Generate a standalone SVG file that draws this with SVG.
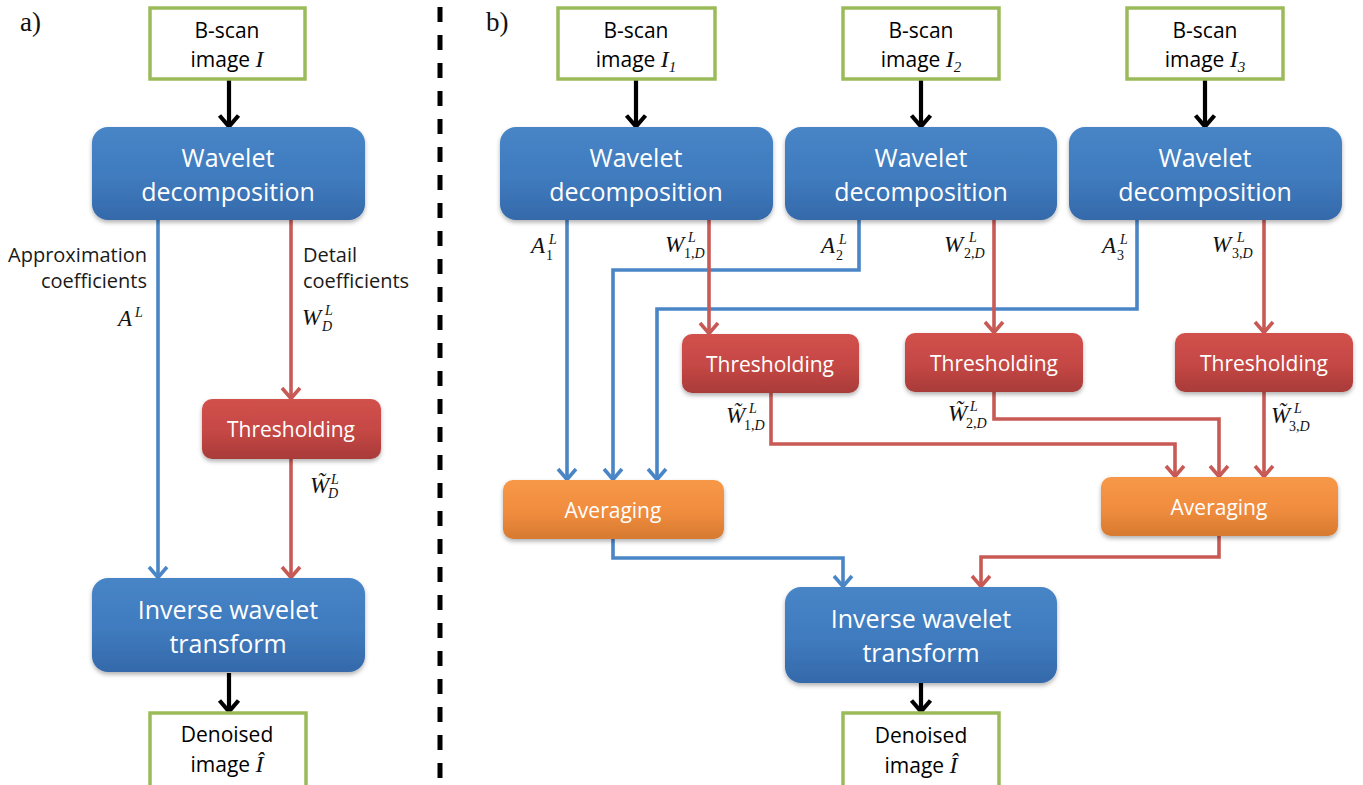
<svg xmlns="http://www.w3.org/2000/svg" width="1363" height="785" viewBox="0 0 1363 785">
<defs>
<linearGradient id="gb" x1="0" y1="0" x2="0" y2="1"><stop offset="0" stop-color="#4785C7"/><stop offset="0.55" stop-color="#3F7BBE"/><stop offset="1" stop-color="#3469AA"/></linearGradient>
<linearGradient id="gr" x1="0" y1="0" x2="0" y2="1"><stop offset="0" stop-color="#D2514D"/><stop offset="0.55" stop-color="#C44744"/><stop offset="1" stop-color="#A83B39"/></linearGradient>
<linearGradient id="go" x1="0" y1="0" x2="0" y2="1"><stop offset="0" stop-color="#F79848"/><stop offset="0.55" stop-color="#F08C3E"/><stop offset="1" stop-color="#D67A30"/></linearGradient>
<filter id="sh" x="-10%" y="-10%" width="120%" height="130%"><feDropShadow dx="0" dy="2.5" stdDeviation="2" flood-color="#000" flood-opacity="0.3"/></filter>
<marker id="mk" markerUnits="userSpaceOnUse" markerWidth="24" markerHeight="24" refX="10.5" refY="12" orient="auto" overflow="visible"><path d="M0 2.5 L11 12 L0 21.5" fill="none" stroke="#000" stroke-width="4.2"/></marker>
<marker id="mb" markerUnits="userSpaceOnUse" markerWidth="24" markerHeight="24" refX="10" refY="12" orient="auto" overflow="visible"><path d="M0 3 L10.5 12 L0 21" fill="none" stroke="#4A86C6" stroke-width="3.6"/></marker>
<marker id="mr" markerUnits="userSpaceOnUse" markerWidth="24" markerHeight="24" refX="10" refY="12" orient="auto" overflow="visible"><path d="M0 3 L10.5 12 L0 21" fill="none" stroke="#C85A56" stroke-width="3.6"/></marker>
</defs>
<style>
.in{fill:#fff;stroke:#9BBB59;stroke-width:3.5}
.nb{fill:url(#gb);filter:url(#sh)}
.nr{fill:url(#gr);filter:url(#sh)}
.no{fill:url(#go);filter:url(#sh)}
.t{font-family:"Open Sans","Liberation Sans",sans-serif;text-anchor:middle}
.tw{font-family:"Open Sans","Liberation Sans",sans-serif;text-anchor:middle;fill:#fff}
.tk{font-family:"Open Sans","Liberation Sans",sans-serif;fill:#1a1a1a;font-size:20px}
.m{font-family:"Liberation Serif","Times New Roman",serif;font-style:italic;fill:#111}
.mu{font-family:"Liberation Serif","Times New Roman",serif;fill:#111}
.cb{fill:none;stroke:#4A86C6;stroke-width:3.6;marker-end:url(#mb)}
.cr{fill:none;stroke:#C85A56;stroke-width:3.6;marker-end:url(#mr)}
.ck{fill:none;stroke:#000;stroke-width:4.2;marker-end:url(#mk)}
.lab{font-family:"Liberation Serif","Times New Roman",serif;font-size:27px;fill:#111}
</style>

<text class="lab" x="20" y="31">a)</text>
<text class="lab" x="486" y="31">b)</text>
<line x1="440" y1="7" x2="440" y2="785" stroke="#000" stroke-width="5" stroke-dasharray="15 13"/>

<g id="connectors">
<line class="ck" x1="229" y1="80" x2="229" y2="126"/>
<line class="cb" x1="158" y1="220" x2="158" y2="577"/>
<line class="cr" x1="291" y1="220" x2="291" y2="398"/>
<line class="cr" x1="291" y1="459" x2="291" y2="577"/>
<line class="ck" x1="229" y1="673" x2="229" y2="711"/>
<line class="ck" x1="636" y1="80" x2="636" y2="126"/>
<line class="ck" x1="921" y1="80" x2="921" y2="126"/>
<line class="ck" x1="1205" y1="80" x2="1205" y2="126"/>
<line class="cb" x1="567" y1="220" x2="567" y2="479"/>
<polyline class="cb" points="859,220 859,270 613,270 613,479"/>
<polyline class="cb" points="1137,220 1137,309 657,309 657,479"/>
<line class="cr" x1="709" y1="220" x2="709" y2="333"/>
<line class="cr" x1="994" y1="220" x2="994" y2="332"/>
<line class="cr" x1="1264" y1="220" x2="1264" y2="332"/>
<polyline class="cr" points="771,393 771,444 1175,444 1175,476"/>
<polyline class="cr" points="994,392 994,419 1219,419 1219,476"/>
<line class="cr" x1="1264" y1="392" x2="1264" y2="476"/>
<polyline class="cb" points="613,539 613,558 843,558 843,586"/>
<polyline class="cr" points="1219,536 1219,557 981,557 981,586"/>
<line class="ck" x1="921" y1="683" x2="921" y2="711"/>
</g>

<g id="a-input">
<rect class="in" x="150" y="8" width="155" height="71"/>
<text class="t" x="227" y="38" font-size="21">B-scan</text>
<text class="t" x="227" y="67" font-size="21">image <tspan class="m" font-size="24">I</tspan></text>
</g>
<g id="a-wavelet">
<rect class="nb" x="92" y="127" width="273" height="93" rx="16"/>
<text class="tw" x="228" y="167" font-size="25">Wavelet</text>
<text class="tw" x="228" y="201" font-size="25">decomposition</text>
</g>
<g id="a-threshold">
<rect class="nr" x="202" y="399" width="179" height="60" rx="10"/>
<text class="tw" x="291" y="437" font-size="21">Thresholding</text>
</g>
<g id="a-inverse">
<rect class="nb" x="92" y="578" width="273" height="94" rx="16"/>
<text class="tw" x="228" y="619" font-size="25">Inverse wavelet</text>
<text class="tw" x="228" y="653" font-size="25">transform</text>
</g>
<g id="a-output">
<rect class="in" x="150" y="713" width="156" height="80"/>
<text class="t" x="227" y="742" font-size="21">Denoised</text>
<text class="t" x="227" y="772" font-size="21">image <tspan class="m" font-size="24">Î</tspan></text>
</g>
<g id="a-labels">
<text class="tk" x="147" y="262" text-anchor="end">Approximation</text>
<text class="tk" x="147" y="288" text-anchor="end">coefficients</text>
<text class="m" x="118" y="326" font-size="23">A</text>
<text class="m" x="135" y="317" font-size="14">L</text>
<text class="tk" x="303" y="262">Detail</text>
<text class="tk" x="303" y="288">coefficients</text>
<text class="m" x="302" y="325" font-size="23">W</text>
<text class="m" x="325" y="315" font-size="14">L</text>
<text class="m" x="322" y="331" font-size="14">D</text>
<text class="m" x="310" y="493" font-size="23">W&#771;</text>
<text class="m" x="331" y="484" font-size="14">L</text>
<text class="m" x="328" y="498" font-size="14">D</text>
</g>

<g id="b-input1">
<rect class="in" x="558" y="8" width="157" height="71"/>
<text class="t" x="636" y="38" font-size="21">B-scan</text>
<text class="t" x="636" y="67" font-size="21">image <tspan class="m" font-size="24">I</tspan><tspan class="m" font-size="15" dy="5">1</tspan></text>
</g>
<g id="b-input2">
<rect class="in" x="843" y="8" width="156" height="71"/>
<text class="t" x="921" y="38" font-size="21">B-scan</text>
<text class="t" x="921" y="67" font-size="21">image <tspan class="m" font-size="24">I</tspan><tspan class="m" font-size="15" dy="5">2</tspan></text>
</g>
<g id="b-input3">
<rect class="in" x="1127" y="8" width="156" height="71"/>
<text class="t" x="1205" y="38" font-size="21">B-scan</text>
<text class="t" x="1205" y="67" font-size="21">image <tspan class="m" font-size="24">I</tspan><tspan class="m" font-size="15" dy="5">3</tspan></text>
</g>
<g id="b-wavelet1">
<rect class="nb" x="500" y="127" width="273" height="93" rx="16"/>
<text class="tw" x="636" y="167" font-size="25">Wavelet</text>
<text class="tw" x="636" y="201" font-size="25">decomposition</text>
</g>
<g id="b-wavelet2">
<rect class="nb" x="785" y="127" width="272" height="93" rx="16"/>
<text class="tw" x="921" y="167" font-size="25">Wavelet</text>
<text class="tw" x="921" y="201" font-size="25">decomposition</text>
</g>
<g id="b-wavelet3">
<rect class="nb" x="1069" y="127" width="273" height="93" rx="16"/>
<text class="tw" x="1205" y="167" font-size="25">Wavelet</text>
<text class="tw" x="1205" y="201" font-size="25">decomposition</text>
</g>
<g id="b-threshold1">
<rect class="nr" x="682" y="334" width="177" height="59" rx="10"/>
<text class="tw" x="770" y="372" font-size="21">Thresholding</text>
</g>
<g id="b-threshold2">
<rect class="nr" x="905" y="333" width="178" height="59" rx="10"/>
<text class="tw" x="994" y="371" font-size="21">Thresholding</text>
</g>
<g id="b-threshold3">
<rect class="nr" x="1175" y="333" width="178" height="59" rx="10"/>
<text class="tw" x="1264" y="371" font-size="21">Thresholding</text>
</g>
<g id="b-averaging1">
<rect class="no" x="503" y="480" width="221" height="59" rx="10"/>
<text class="tw" x="613" y="518" font-size="21">Averaging</text>
</g>
<g id="b-averaging2">
<rect class="no" x="1101" y="477" width="237" height="59" rx="10"/>
<text class="tw" x="1219" y="515" font-size="21">Averaging</text>
</g>
<g id="b-inverse">
<rect class="nb" x="785" y="587" width="272" height="96" rx="16"/>
<text class="tw" x="921" y="628" font-size="25">Inverse wavelet</text>
<text class="tw" x="921" y="662" font-size="25">transform</text>
</g>
<g id="b-output">
<rect class="in" x="843" y="713" width="156" height="80"/>
<text class="t" x="921" y="743" font-size="21">Denoised</text>
<text class="t" x="921" y="773" font-size="21">image <tspan class="m" font-size="24">Î</tspan></text>
</g>
<g id="b-labels">
<text class="m" x="531" y="253" font-size="23">A</text>
<text class="m" x="549" y="244" font-size="14">L</text>
<text class="mu" x="546" y="260" font-size="14">1</text>

<text class="m" x="665" y="252" font-size="23">W</text>
<text class="m" x="688" y="242" font-size="14">L</text>
<text class="mu" x="684" y="258" font-size="14">1,<tspan class="m">D</tspan></text>

<text class="m" x="821" y="253" font-size="23">A</text>
<text class="m" x="839" y="244" font-size="14">L</text>
<text class="mu" x="836" y="260" font-size="14">2</text>

<text class="m" x="944" y="252" font-size="23">W</text>
<text class="m" x="969" y="242" font-size="14">L</text>
<text class="mu" x="964" y="258" font-size="14">2,<tspan class="m">D</tspan></text>

<text class="m" x="1102" y="253" font-size="23">A</text>
<text class="m" x="1120" y="244" font-size="14">L</text>
<text class="mu" x="1117" y="260" font-size="14">3</text>

<text class="m" x="1212" y="252" font-size="23">W</text>
<text class="m" x="1237" y="242" font-size="14">L</text>
<text class="mu" x="1232" y="258" font-size="14">3,<tspan class="m">D</tspan></text>

<text class="m" x="726" y="423" font-size="23">W&#771;</text>
<text class="m" x="749" y="413" font-size="14">L</text>
<text class="mu" x="744" y="430" font-size="14">1,<tspan class="m">D</tspan></text>

<text class="m" x="948" y="421" font-size="23">W&#771;</text>
<text class="m" x="970" y="411" font-size="14">L</text>
<text class="mu" x="966" y="428" font-size="14">2,<tspan class="m">D</tspan></text>

<text class="m" x="1271" y="423" font-size="23">W&#771;</text>
<text class="m" x="1294" y="413" font-size="14">L</text>
<text class="mu" x="1289" y="431" font-size="14">3,<tspan class="m">D</tspan></text>
</g>
</svg>
